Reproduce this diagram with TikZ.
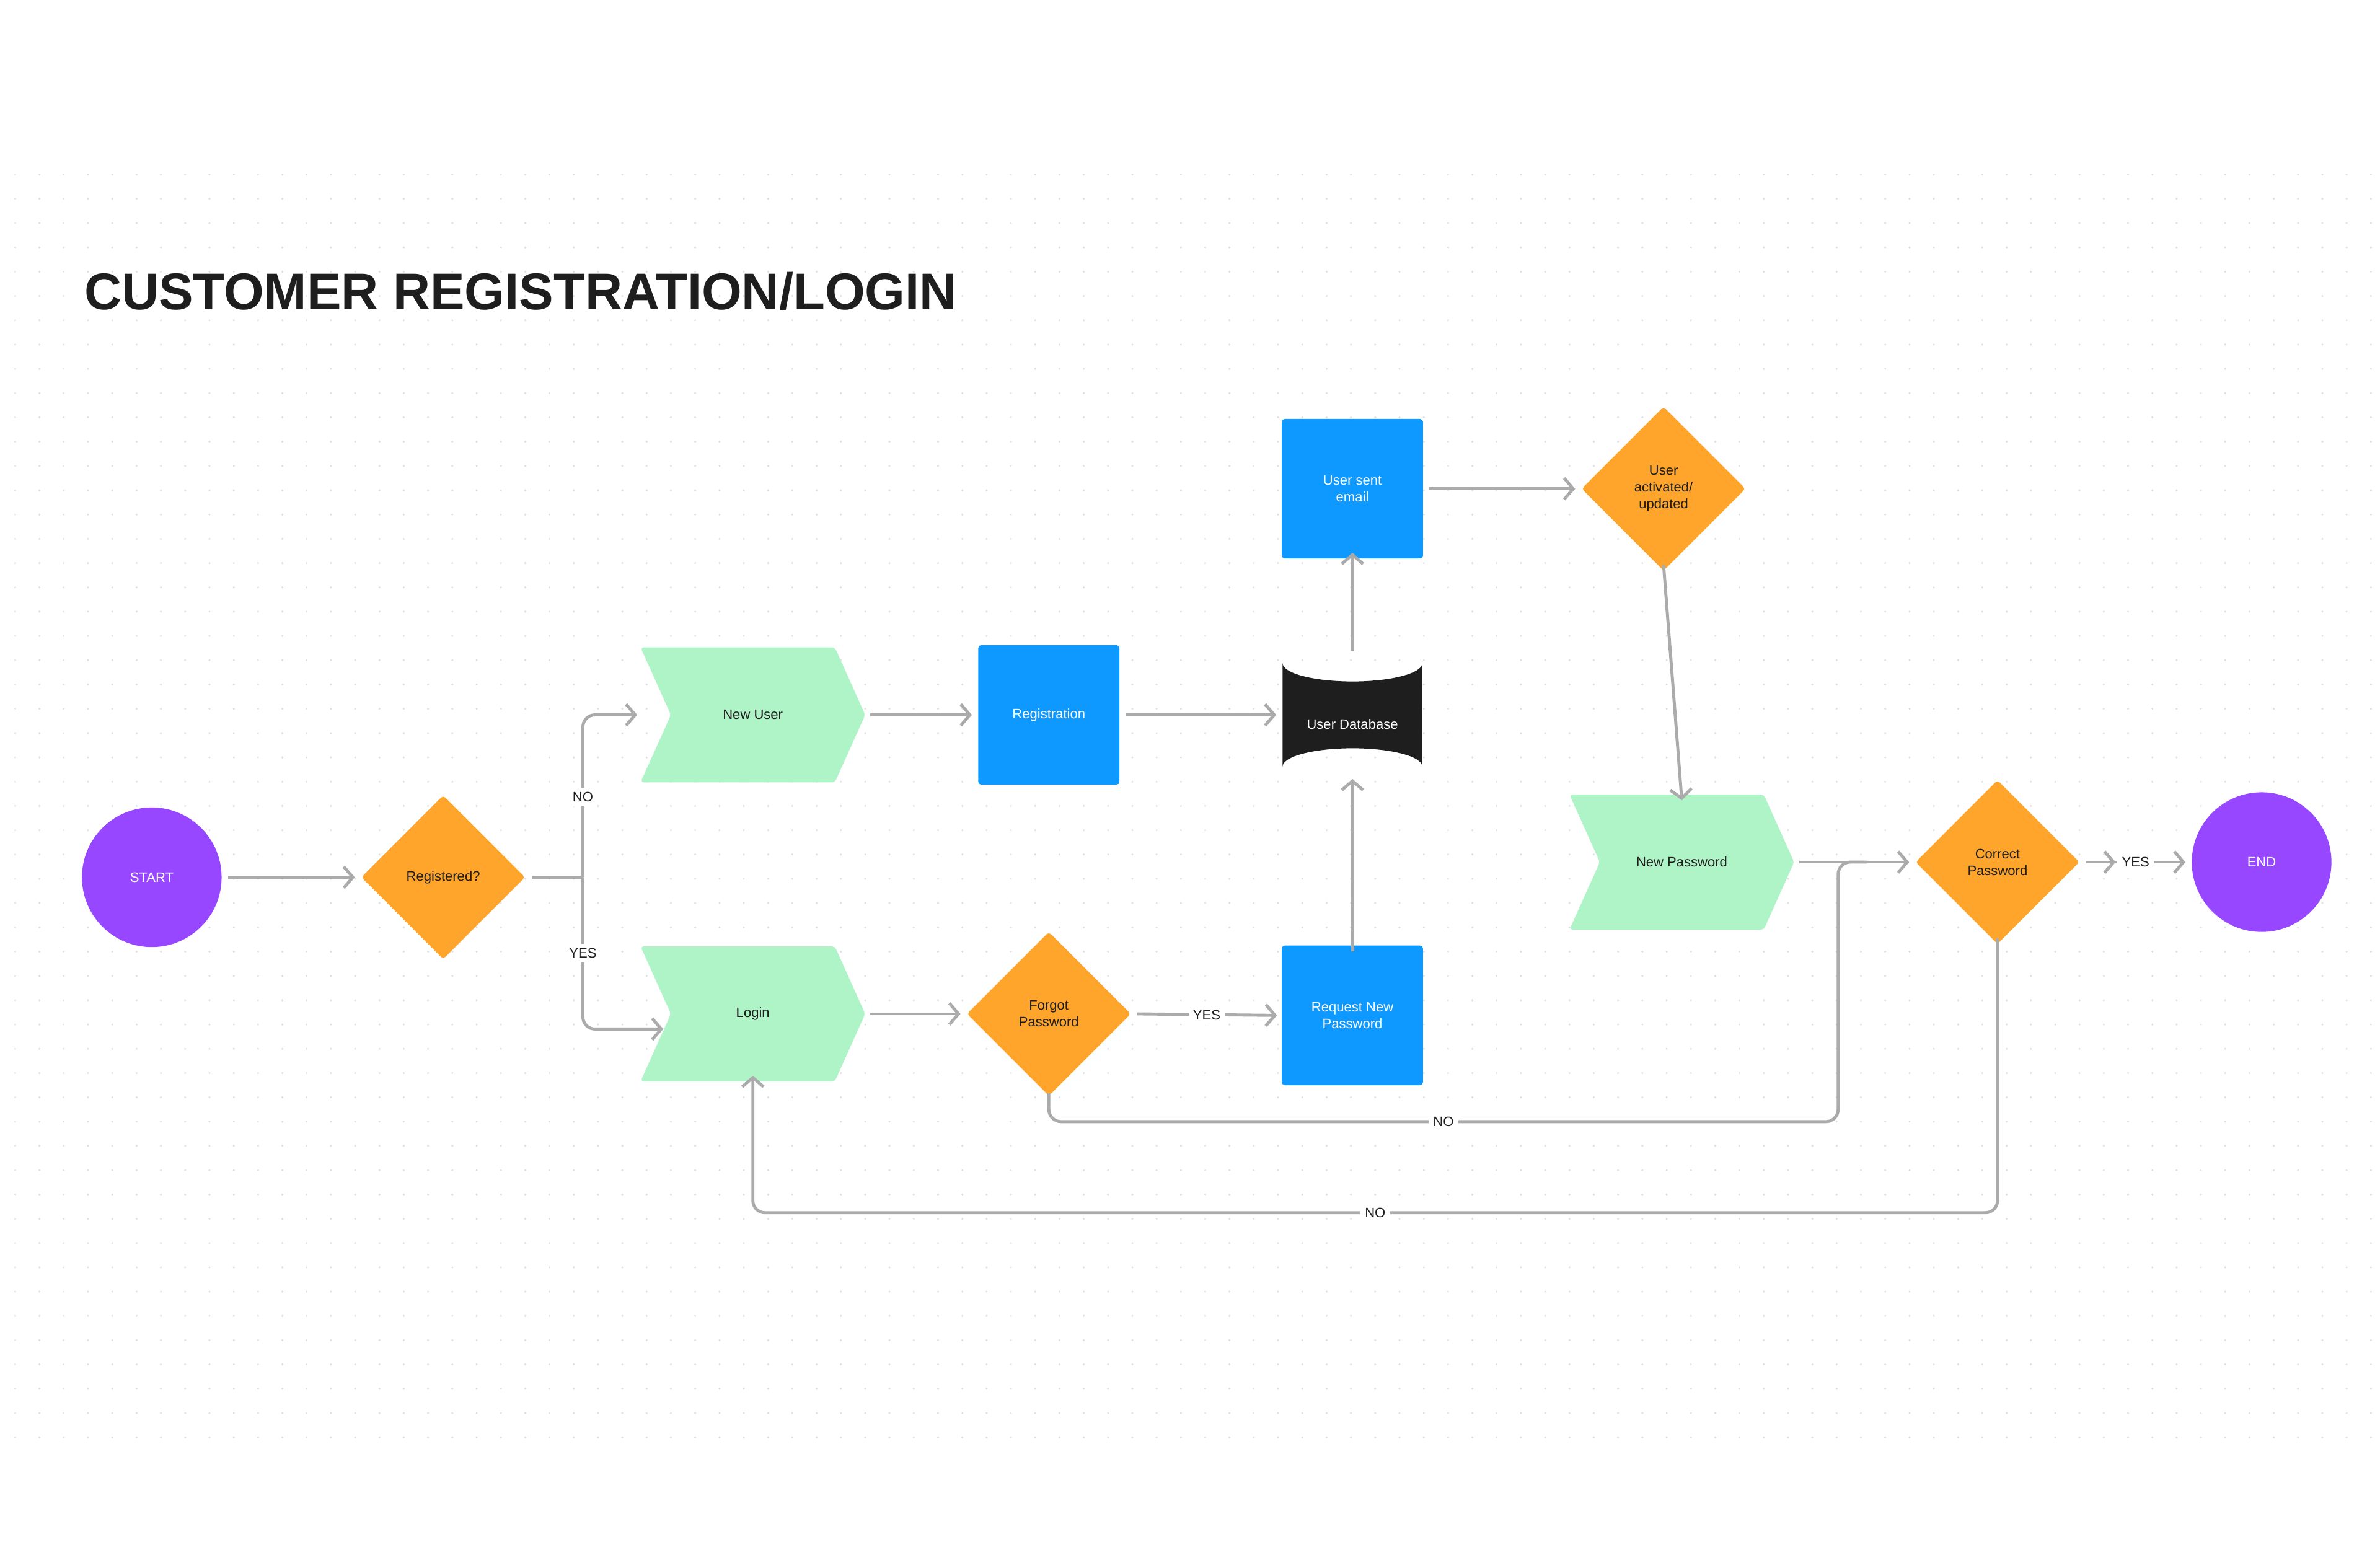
\documentclass[tikz,border=0pt]{standalone}
\usepackage{fontspec}
\setmainfont{Liberation Sans}
\usetikzlibrary{arrows.meta,shapes.geometric}
\definecolor{cpurple}{HTML}{9747FF}
\definecolor{corange}{HTML}{FFA52C}
\definecolor{cblue}{HTML}{0D99FF}
\definecolor{cgreen}{HTML}{AFF4C6}
\definecolor{cline}{HTML}{ABABAB}
\definecolor{cdark}{HTML}{1E1E1E}
\begin{document}
\begin{tikzpicture}[x=1pt,y=-1pt,
  lbl/.style={font=\fontsize{9}{11}\selectfont, align=center, text=cdark},
  circ/.style={circle, fill=cpurple, minimum size=92pt, inner sep=0pt, lbl, text=white},
  dia/.style={diamond, fill=corange, minimum width=108pt, minimum height=108pt, inner sep=0pt, lbl, rounded corners=2pt},
  box/.style={rectangle, fill=cblue, minimum width=93pt, minimum height=92pt, rounded corners=2pt, lbl, text=white},
  chev/.style={rectangle, minimum width=148pt, minimum height=89pt, lbl,
    path picture={\fill[cgreen, rounded corners=2pt]
      ([xshift=0pt]path picture bounding box.north west) -- ([xshift=-20pt]path picture bounding box.north east)
      -- (path picture bounding box.east) -- ([xshift=-20pt]path picture bounding box.south east)
      -- (path picture bounding box.south west) -- ([xshift=20pt]path picture bounding box.west) -- cycle;}},
  cyl/.style={rectangle, minimum width=92pt, minimum height=92pt, lbl, text=white,
    path picture={
      \fill[cdark] ([yshift=-12pt]path picture bounding box.north west) arc[start angle=180,end angle=0,x radius=46pt,y radius=-12pt]
        -- ([yshift=12pt]path picture bounding box.south east) arc[start angle=0,end angle=-180,x radius=46pt,y radius=-12pt] -- cycle;
      \draw[white, line width=1.5pt] ([yshift=-12pt]path picture bounding box.north west) arc[start angle=180,end angle=360,x radius=46pt,y radius=-12pt];}},
  conn/.style={draw=cline, line width=2pt, -{Straight Barb[length=6pt,width=14pt,line width=2pt]}, rounded corners=8pt},
  ln/.style={draw=cline, line width=2pt, rounded corners=8pt},
  elbl/.style={lbl, fill=white, inner sep=3pt}
]
\fill[white] (0,0) rectangle (1568,1021);
\foreach \i in {0,...,97}{\foreach \j in {0,...,52}{\fill[black!12] (10+\i*16, 115+\j*16) circle (0.7pt);}}
\node[anchor=west, font=\bfseries\fontsize{34}{40}\selectfont, text=cdark] (title) at (52,192) {CUSTOMER REGISTRATION/LOGIN};

\node[circ] (start) at (100,578) {START};
\node[dia] (reg) at (292,578) {Registered?};
\node[chev] (nu) at (496,471) {New User};
\node[chev] (login) at (496,668) {Login};
\node[box] (regn) at (691,471) {Registration};
\node[cyl] (db) at (891,471) {\\[8pt]User Database};
\node[box] (email) at (891,322) {User sent\\email};
\node[dia] (act) at (1096,322) {User\\activated/\\updated};
\node[chev] (np) at (1108,568) {New Password};
\node[dia] (cp) at (1316,568) {Correct\\Password};
\node[circ] (end) at (1490,568) {END};
\node[dia] (fp) at (691,668) {Forgot\\Password};
\node[box] (rnp) at (891,669) {Request New\\Password};

\coordinate (br) at (384,578);
\path[conn] ([xshift=4pt]start.east) -- ([xshift=-4pt]reg.west);
\path[ln] ([xshift=4pt]reg.east) -- (br);
\path[conn] (br) -- (384,471) -- ([xshift=-2pt]nu.west);
\path[conn] (br) -- (384,678) -- (437,678);
\node[elbl] (no1) at (384,525) {NO};
\node[elbl] (yes1) at (384,628) {YES};
\path[conn] ([xshift=3pt]nu.east) -- ([xshift=-4pt]regn.west);
\path[conn] ([xshift=4pt]regn.east) -- ([xshift=-4pt]db.west);
\path[conn] ([yshift=-4pt]db.north) -- ([yshift=4pt]email.south);
\path[conn] ([xshift=4pt]email.east) -- ([xshift=-4pt]act.west);
\path[conn] ([yshift=4pt]act.south) -- ([yshift=-4pt]np.north);
\path[conn] ([xshift=3pt]np.east) -- ([xshift=-4pt]cp.west);
\path[conn] ([xshift=3pt]login.east) -- ([xshift=-4pt]fp.west);
\path[conn] ([xshift=4pt]fp.east) -- ([xshift=-3pt]rnp.west);
\node[elbl] (yes2) at (795,669) {YES};
\path[conn] ([yshift=-4pt]rnp.north) -- ([yshift=4pt]db.south);
\path[conn] ([xshift=4pt]cp.east) -- ([xshift=-50pt]end.west);
\path[conn] ([xshift=4pt]cp.east) -- ([xshift=-4pt]end.west);
\node[elbl] (yes3) at (1407,568) {YES};
\path[ln] ([yshift=2pt]fp.south) -- (691,739) -- (1211,739) -- (1211,568) -- (1230,568);
\node[elbl] (no2) at (951,739) {NO};
\path[conn] ([yshift=4pt]cp.south) -- (1316,799) -- (496,799) -- ([yshift=4pt]login.south);
\node[elbl] (no3) at (906,799) {NO};
\end{tikzpicture}
\end{document}
